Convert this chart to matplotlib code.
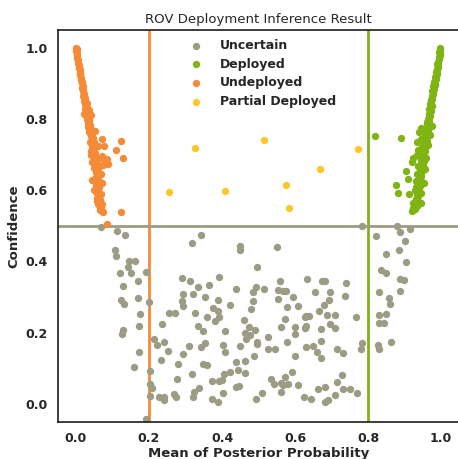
import matplotlib
matplotlib.use("Agg")
import matplotlib.pyplot as plt
import seaborn as sns

# values
uncertain_x = [0.068, 0.113, 0.133, 0.107, 0.110, 0.144, 0.161, 0.143, 0.120, 0.151,
               0.192, 0.171, 0.128, 0.123, 0.132, 0.170, 0.201, 0.174, 0.130, 0.127,
               0.173, 0.173, 0.158, 0.202, 0.204, 0.207, 0.204, 0.192,
               0.214, 0.223, 0.242, 0.253, 0.232, 0.235, 0.254, 0.272, 0.227, 0.241,
               0.242, 0.268, 0.274, 0.277, 0.279, 0.292, 0.310, 0.291, 0.312, 0.292,
               0.320, 0.291, 0.292, 0.326, 0.333, 0.318, 0.343, 0.333, 0.348, 0.342,
               0.353, 0.347, 0.358, 0.318, 0.336, 0.322, 0.321, 0.354, 0.360, 0.363,
               0.392, 0.375, 0.388, 0.390, 0.392, 0.381, 0.407, 0.402, 0.408, 0.373,
               0.393, 0.400, 0.405, 0.402, 0.373, 0.390, 0.423, 0.438, 0.423, 0.445,
               0.438, 0.449, 0.438, 0.447, 0.449, 0.449, 0.460, 0.464, 0.464, 0.464,
               0.475, 0.491, 0.466, 0.477, 0.495, 0.497, 0.487, 0.479, 0.485, 0.486,
               0.492, 0.514, 0.495, 0.492, 0.510,
               0.550, 0.527, 0.525, 0.546, 0.534, 0.543, 0.562, 0.566, 0.582, 0.573,
               0.591, 0.562, 0.608, 0.558, 0.552, 0.567, 0.575, 0.554, 0.595, 0.578,
               0.608, 0.573, 0.561, 0.601, 0.599, 0.578, 0.600, 0.626, 0.629, 0.629,
               0.648, 0.660, 0.671, 0.672, 0.672, 0.625, 0.644, 0.662, 0.683, 0.682,
               0.689, 0.634, 0.674, 0.681, 0.654, 0.695, 0.629, 0.639, 0.627, 0.666,
               0.679, 0.692, 0.688, 0.710, 0.695, 0.710, 0.716, 0.732, 0.740, 0.738,
               0.715, 0.729, 0.730, 0.751, 0.769, 0.710,
               0.768, 0.782, 0.781, 0.784, 0.821, 0.878, 0.887, 0.915, 0.901, 0.849,
               0.886, 0.904, 0.834, 0.850, 0.888, 0.899, 0.829, 0.887, 0.858, 0.860,
               0.831, 0.850, 0.829, 0.843, 0.828, 0.831, 0.863]
uncertain_y = [0.496, 0.486, 0.475, 0.432, 0.415, 0.400, 0.402, 0.385, 0.367, 0.368,
               0.370, 0.345, 0.331, 0.292, 0.281, 0.297, 0.286, 0.253, 0.209, 0.197,
               0.218, 0.147, 0.103, 0.093, 0.055, 0.045, 0.022, -0.043,
               0.182, 0.166, 0.173, 0.149, 0.123, 0.224, 0.255, 0.255, 0.020, 0.019,
               0.010, 0.027, 0.019, 0.070, 0.111, 0.140, 0.162, 0.354, 0.345, 0.310,
               0.309, 0.288, 0.274, 0.256, 0.328, 0.453, 0.473, 0.218, 0.205, 0.161,
               0.170, 0.112, 0.109, 0.084, 0.044, 0.035, 0.021, 0.300, 0.245, 0.335,
               0.356, 0.270, 0.262, 0.291, 0.243, 0.233, 0.206, 0.166, 0.146, 0.065,
               0.065, 0.067, 0.085, 0.032, 0.013, 0.005, 0.279, 0.324, 0.091, 0.095,
               0.119, 0.163, 0.047, 0.050, 0.443, 0.431, 0.235, 0.120, 0.086, 0.198,
               0.216, 0.208, 0.182, 0.194, 0.174, 0.168, 0.135, 0.266, 0.289, 0.314,
               0.328, 0.322, 0.385, 0.013, 0.030,
               0.440, 0.187, 0.154, 0.154, 0.070, 0.056, 0.059, 0.052, 0.056, 0.077,
               0.089, 0.035, 0.052, 0.345, 0.320, 0.318, 0.316, 0.294, 0.300, 0.271,
               0.276, 0.239, 0.216, 0.217, 0.196, 0.173, 0.135, 0.213, 0.220, 0.161,
               0.164, 0.146, 0.130, 0.176, 0.210, 0.020, 0.015, 0.042, 0.049, 0.005,
               0.010, 0.350, 0.346, 0.346, 0.314, 0.314, 0.248, 0.248, 0.243, 0.261,
               0.278, 0.293, 0.250, 0.251, 0.225, 0.212, 0.154, 0.144, 0.340, 0.303,
               0.063, 0.081, 0.043, 0.041, 0.032, 0.026,
               0.244, 0.170, 0.155, 0.500, 0.472, 0.500, 0.482, 0.490, 0.457, 0.422,
               0.431, 0.399, 0.376, 0.368, 0.351, 0.348, 0.315, 0.316, 0.298, 0.280,
               0.250, 0.253, 0.227, 0.228, 0.166, 0.154, 0.175]

deployed_x = [0.998, 0.997, 0.995, 0.996, 0.993, 0.994, 0.991, 0.990, 0.992, 0.988,
              0.986, 0.988, 0.984, 0.985, 0.981, 0.983, 0.979, 0.980, 0.976, 0.978,
              0.974, 0.976, 0.972, 0.970, 0.974, 0.968, 0.971, 0.966, 0.969, 0.964,
              0.967, 0.962, 0.965, 0.960, 0.964, 0.957, 0.962, 0.955, 0.960, 0.953,
              0.958, 0.950, 0.956, 0.948, 0.954, 0.946, 0.952, 0.945, 0.950, 0.943,
              0.948, 0.942, 0.946, 0.940, 0.944, 0.938, 0.942, 0.936, 0.940, 0.934,
              0.938, 0.932, 0.936, 0.930, 0.934, 0.928,
              0.945, 0.975, 0.940, 0.970, 0.945, 0.933, 0.963, 0.938, 0.935, 0.958,
              0.938, 0.955, 0.935, 0.930, 0.952, 0.928,
              0.996, 0.992, 0.989, 0.985, 0.982, 0.978, 0.973, 0.969, 0.966, 0.961,
              0.957, 0.952, 0.948, 0.944, 0.941, 0.937,
              0.818, 0.890, 0.920, 0.922, 0.904, 0.909, 0.876, 0.883, 0.911, 0.932,
              0.944, 0.922, 0.944, 0.920, 0.924]
deployed_y = [1.000, 0.994, 0.988, 0.982, 0.975, 0.968, 0.961, 0.954, 0.947, 0.940,
              0.933, 0.926, 0.919, 0.912, 0.905, 0.898, 0.891, 0.884, 0.877, 0.870,
              0.863, 0.856, 0.849, 0.842, 0.835, 0.828, 0.821, 0.814, 0.807, 0.800,
              0.793, 0.786, 0.779, 0.772, 0.765, 0.758, 0.751, 0.744, 0.737, 0.730,
              0.723, 0.716, 0.709, 0.702, 0.695, 0.688, 0.681, 0.674, 0.667, 0.660,
              0.653, 0.646, 0.639, 0.632, 0.625, 0.618, 0.611, 0.604, 0.597, 0.590,
              0.583, 0.576, 0.569, 0.562, 0.555, 0.548,
              0.775, 0.780, 0.762, 0.755, 0.745, 0.735, 0.728, 0.712, 0.700, 0.690,
              0.668, 0.660, 0.645, 0.625, 0.620, 0.600,
              0.979, 0.958, 0.936, 0.915, 0.894, 0.873, 0.852, 0.831, 0.810, 0.790,
              0.768, 0.741, 0.720, 0.684, 0.650, 0.615,
              0.752, 0.747, 0.680, 0.690, 0.655, 0.631, 0.614, 0.593, 0.590, 0.608,
              0.591, 0.565, 0.563, 0.542, 0.549]

undeployed_x = [0.000, 0.002, 0.001, 0.003, 0.004, 0.003, 0.006, 0.005, 0.008, 0.007,
                0.010, 0.012, 0.011, 0.014, 0.013, 0.016, 0.018, 0.017, 0.020, 0.022,
                0.019, 0.024, 0.023, 0.026, 0.028, 0.025, 0.030, 0.027, 0.033, 0.031,
                0.036, 0.034, 0.038, 0.032, 0.041, 0.037, 0.044, 0.040, 0.046, 0.043,
                0.039, 0.048, 0.045, 0.050, 0.041, 0.052, 0.047, 0.055, 0.050, 0.044,
                0.057, 0.053, 0.049, 0.058, 0.054, 0.060, 0.056, 0.051, 0.062, 0.058,
                0.054, 0.063, 0.060, 0.056, 0.065, 0.061, 0.058, 0.066, 0.063, 0.060,
                0.068, 0.065, 0.070,
                0.030, 0.035, 0.022, 0.040, 0.045, 0.052, 0.050, 0.060, 0.042, 0.065,
                0.072, 0.080, 0.075, 0.062, 0.068, 0.045, 0.070, 0.050, 0.068, 0.058,
                0.072, 0.065,
                0.004, 0.008, 0.012, 0.016, 0.020, 0.024, 0.029, 0.035, 0.040, 0.046,
                0.052, 0.057, 0.061, 0.064,
                0.070, 0.122, 0.077, 0.111, 0.128, 0.085, 0.088, 0.123, 0.075, 0.086]
undeployed_y = [1.000, 0.995, 0.990, 0.985, 0.978, 0.972, 0.965, 0.958, 0.950, 0.944,
                0.937, 0.930, 0.922, 0.915, 0.908, 0.900, 0.893, 0.886, 0.878, 0.871,
                0.864, 0.856, 0.849, 0.842, 0.835, 0.828, 0.821, 0.814, 0.808, 0.801,
                0.795, 0.789, 0.782, 0.776, 0.770, 0.764, 0.758, 0.752, 0.746, 0.740,
                0.734, 0.728, 0.722, 0.716, 0.710, 0.704, 0.698, 0.692, 0.686, 0.680,
                0.674, 0.668, 0.662, 0.656, 0.650, 0.644, 0.638, 0.632, 0.626, 0.620,
                0.614, 0.608, 0.602, 0.596, 0.590, 0.584, 0.578, 0.572, 0.566, 0.560,
                0.554, 0.548, 0.542,
                0.845, 0.825, 0.815, 0.810, 0.770, 0.765, 0.735, 0.725, 0.700, 0.690,
                0.695, 0.680, 0.670, 0.665, 0.645, 0.630, 0.620, 0.600, 0.590, 0.570,
                0.560, 0.545,
                0.975, 0.947, 0.926, 0.904, 0.882, 0.860, 0.832, 0.798, 0.762, 0.719,
                0.677, 0.638, 0.605, 0.577,
                0.743, 0.737, 0.724, 0.713, 0.690, 0.687, 0.674, 0.540, 0.540, 0.504]

partial_x = [0.325, 0.514, 0.772, 0.669, 0.256, 0.409, 0.576, 0.584]
partial_y = [0.717, 0.741, 0.715, 0.660, 0.594, 0.597, 0.615, 0.550]

gray = '#9c9c84'
green = '#7fb414'
orange = '#f58a37'
yellow = '#fdc72a'

sns.set_style('white')
plt.rcParams['font.family'] = ['DejaVu Sans']

fig = plt.figure(figsize=(4.58, 4.59), dpi=100)
ax = fig.add_axes([0.126, 0.081, 0.877, 0.854])

ax.axvline(0.2, color=orange, linewidth=2, zorder=1)
ax.axvline(0.8, color=green, linewidth=2, zorder=1)
ax.axhline(0.5, color=gray, linewidth=2, zorder=1)

ax.scatter(uncertain_x, uncertain_y, s=28, color=gray, linewidths=0, label='Uncertain', zorder=2)
ax.scatter(deployed_x, deployed_y, s=28, color=green, linewidths=0, label='Deployed', zorder=2)
ax.scatter(undeployed_x, undeployed_y, s=28, color=orange, linewidths=0, label='Undeployed', zorder=2)
ax.scatter(partial_x, partial_y, s=28, color=yellow, linewidths=0, label='Partial Deployed', zorder=2)

ax.set_xlim(-0.05, 1.05)
ax.set_ylim(-0.05, 1.05)
ax.set_xticks([0.0, 0.2, 0.4, 0.6, 0.8, 1.0])
ax.set_yticks([0.0, 0.2, 0.4, 0.6, 0.8, 1.0])
ax.tick_params(length=0, pad=7, labelsize=9)
for lab in ax.get_xticklabels() + ax.get_yticklabels():
    lab.set_fontweight('bold')

ax.set_title('ROV Deployment Inference Result', fontsize=9.5, pad=5)
ax.set_xlabel('Mean of Posterior Probability', fontsize=9.5, fontweight='bold', labelpad=2)
ax.set_ylabel('Confidence', fontsize=9.5, fontweight='bold', labelpad=4)

leg = ax.legend(loc='upper left', bbox_to_anchor=(0.285, 1.005), frameon=False,
                prop={'weight': 'bold', 'size': 9}, handletextpad=0.9,
                labelspacing=0.45, markerscale=1.0)

for sp in ax.spines.values():
    sp.set_linewidth(1.25)

fig.savefig('out.png', dpi=100)
